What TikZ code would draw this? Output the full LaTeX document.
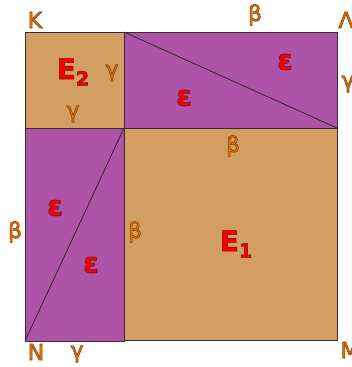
\documentclass[tikz,border=0pt]{standalone}
\usepackage{fontspec}
\setmainfont{DejaVu Sans}
\definecolor{tanc}{RGB}{210,158,98}
\definecolor{purc}{RGB}{173,83,168}
\definecolor{labc}{RGB}{228,112,10}
\definecolor{redc}{RGB}{250,0,0}
\definecolor{edgec}{RGB}{60,40,45}
\newcommand\olo[2]{\special{pdf:literal direct #1 RG 0.55 w 2 Tr}#2\special{pdf:literal direct 0 Tr}}
\newcommand\ol[1]{\olo{0.5 0.25 0.02}{#1}}
\newcommand\olr[1]{\olo{0.45 0.05 0.05}{#1}}
\tikzset{
  lab/.style={text=labc, font=\fontsize{22}{22}\selectfont, inner sep=0pt},
  redl/.style={text=redc, font=\bfseries\fontsize{28}{28}\selectfont, inner sep=0pt},
  region/.style={draw=edgec, line width=0.8pt, line join=round},
  diag/.style={draw=edgec!90!black, line width=0.8pt}
}
\begin{document}
\begin{tikzpicture}[x=1pt,y=-1pt]
\useasboundingbox (0,0) rectangle (352,367);
\coordinate (TL) at (25,32);
\coordinate (T1) at (124,32);
\coordinate (TR) at (337,32);
\coordinate (ML) at (25,128);
\coordinate (C) at (124,128);
\coordinate (MR) at (337,128);
\coordinate (BL) at (25,341);
\coordinate (B1) at (124,341);
\coordinate (B2) at (124,340);
\coordinate (BR) at (337,340);
% regions
\path[region, fill=tanc] (TL) -- (T1) -- (C) -- (ML) -- cycle;
\path[region, fill=purc] (T1) -- (TR) -- (MR) -- (C) -- cycle;
\path[region, fill=purc] (ML) -- (C) -- (B1) -- (BL) -- cycle;
\path[region, fill=tanc] (C) -- (MR) -- (BR) -- (B2) -- cycle;
\draw[diag] (T1) -- (MR);
\draw[diag] (BL) -- (C);
% labels
\node[lab] (lK) at (35,20) {\ol{K}};
\node[lab] (lbt) at (255,15) {\ol{β}};
\node[lab] (lL) at (346,20) {\ol{Λ}};
\node[lab] (lgr) at (348,84) {\ol{γ}};
\node[lab] (lg1) at (112,73) {\ol{γ}};
\node[lab] (lg2) at (73,114) {\ol{γ}};
\node[lab] (lbm) at (233,146) {\ol{β}};
\node[lab] (lbl) at (15,232) {\ol{β}};
\node[lab] (lbc) at (135,232) {\ol{β}};
\node[lab] (lN) at (36,352) {\ol{N}};
\node[lab] (lgb) at (77,354) {\ol{γ}};
\node[lab] (lM) at (350,350) {\ol{M}};
\node[redl] (E2) at (73,72) {\olr{E\raisebox{-0.22em}{\fontsize{19}{19}\selectfont 2}}};
\node[redl] (E1) at (236,244) {\olr{E\raisebox{-0.22em}{\fontsize{19}{19}\selectfont 1}}};
\node[redl] (e1) at (285,62) {\olr{ε}};
\node[redl] (e2) at (184,98) {\olr{ε}};
\node[redl] (e3) at (55,208) {\olr{ε}};
\node[redl] (e4) at (91,265) {\olr{ε}};
\end{tikzpicture}
\end{document}
